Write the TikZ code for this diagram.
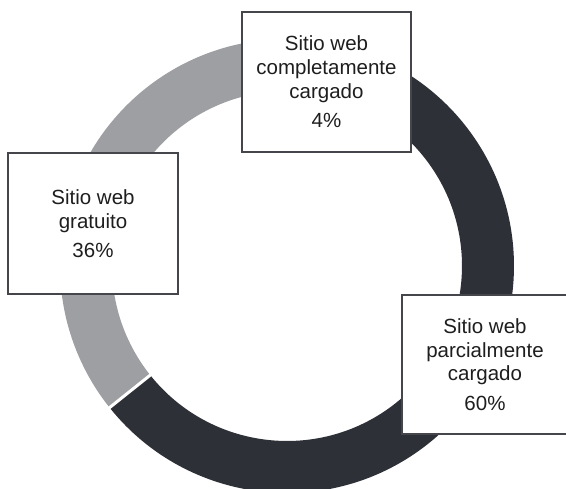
\documentclass[tikz,border=0pt]{standalone}
\usepackage{fontspec}
\setmainfont{Liberation Sans}
\definecolor{ringdark}{HTML}{2E3037}
\definecolor{ringgray}{HTML}{9E9FA3}
\definecolor{ringmid}{HTML}{6B6D72}
\definecolor{boxline}{HTML}{44464C}
\definecolor{txt}{HTML}{1E1E1E}
\begin{document}
\begin{tikzpicture}[x=1pt,y=1pt,
  ring/.style={line width=52pt},
  labelbox/.style={draw=boxline, line width=2.2pt, fill=white, inner sep=0pt,
    text=txt, align=center, font=\fontsize{20.5}{23.8}\selectfont},
  sep/.style={draw=white, line width=3pt}]
\useasboundingbox (0,0) rectangle (566,489);
\begin{scope}
\clip (0,0) rectangle (566,489);
\coordinate (c) at (287,223);
% dark 60%
\draw[ring, ringdark] (c) ++(218.6:201) arc[start angle=218.6, end angle=434.6, radius=201];
% 4%
\draw[ring, ringmid] (c) ++(74.6:201) arc[start angle=74.6, end angle=89, radius=201];
% gray 36%
\draw[ring, ringgray] (c) ++(89:201) arc[start angle=89, end angle=218.6, radius=201];
% separators
\draw[sep] (c) ++(218.6:173) coordinate (s1a) -- ++(218.6:56) coordinate (s1b);
\draw[sep] (c) ++(74.6:173) coordinate (s2a) -- ++(74.6:56) coordinate (s2b);
\draw[sep] (c) ++(89:173) coordinate (s3a) -- ++(89:56) coordinate (s3b);
% boxes
\node[labelbox, minimum width=169pt, minimum height=140pt] (top) at (326.5,407)
  {Sitio web\\completamente\\cargado\\[5.5pt]4\%};
\node[labelbox, minimum width=170pt, minimum height=141pt] (left) at (93,265.5)
  {Sitio web\\gratuito\\[5.5pt]36\%};
\node[labelbox, minimum width=170pt, minimum height=139pt] (right) at (487,124.5)
  {\hspace*{-4pt}Sitio web\\\hspace*{-4pt}parcialmente\\\hspace*{-4pt}cargado\\[5.5pt]\hspace*{-4pt}60\%};
\end{scope}
\end{tikzpicture}
\end{document}
